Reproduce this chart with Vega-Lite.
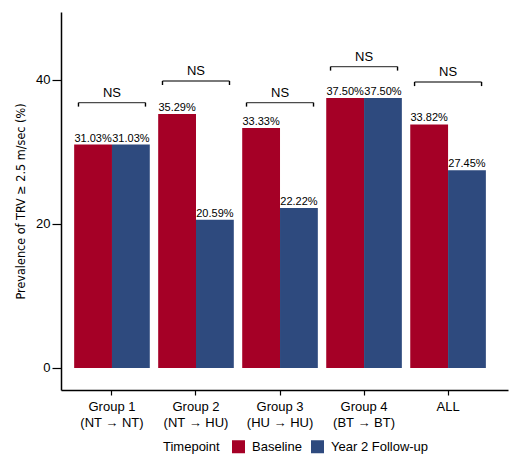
{
  "$schema": "https://vega.github.io/schema/vega-lite/v6.json",
  "autosize": {"type": "none"},
  "padding": {"left": 61, "top": 12, "right": 12, "bottom": 76},
  "width": 447,
  "height": 378,
  "background": "white",
  "config": {
    "font": "Liberation Sans",
    "view": {"stroke": null},
    "axis": {"labelColor": "black", "titleColor": "black", "domainColor": "black", "tickColor": "black", "grid": false}
  },
  "datasets": {
    "bars": [
      {"group": "Group 1|(NT → NT)", "timepoint": "Baseline", "value": 31.03},
      {"group": "Group 1|(NT → NT)", "timepoint": "Year 2 Follow-up", "value": 31.03},
      {"group": "Group 2|(NT → HU)", "timepoint": "Baseline", "value": 35.29},
      {"group": "Group 2|(NT → HU)", "timepoint": "Year 2 Follow-up", "value": 20.59},
      {"group": "Group 3|(HU → HU)", "timepoint": "Baseline", "value": 33.33},
      {"group": "Group 3|(HU → HU)", "timepoint": "Year 2 Follow-up", "value": 22.22},
      {"group": "Group 4|(BT → BT)", "timepoint": "Baseline", "value": 37.5},
      {"group": "Group 4|(BT → BT)", "timepoint": "Year 2 Follow-up", "value": 37.5},
      {"group": "ALL", "timepoint": "Baseline", "value": 33.82},
      {"group": "ALL", "timepoint": "Year 2 Follow-up", "value": 27.45}
    ],
    "brackets": [
      {"group": "Group 1|(NT → NT)", "top": 36.85, "end": 36.3, "label": "NS"},
      {"group": "Group 2|(NT → HU)", "top": 39.86, "end": 39.3, "label": "NS"},
      {"group": "Group 3|(HU → HU)", "top": 36.85, "end": 36.3, "label": "NS"},
      {"group": "Group 4|(BT → BT)", "top": 41.85, "end": 41.3, "label": "NS"},
      {"group": "ALL", "top": 39.72, "end": 39.15, "label": "NS"}
    ]
  },
  "encoding": {
    "x": {
      "field": "group",
      "type": "nominal",
      "sort": null,
      "scale": {"paddingInner": 0.1, "paddingOuter": 0.21, "align": 0.373},
      "axis": {
        "title": null,
        "labelAngle": 0,
        "labelFontSize": 13,
        "labelLineHeight": 16,
        "labelExpr": "split(datum.label, '|')",
        "labelBaseline": "top",
        "labelPadding": 5,
        "tickSize": 5,
        "tickWidth": 1.2,
        "domainWidth": 1.5
      }
    }
  },
  "layer": [
    {
      "data": {"name": "bars"},
      "mark": {"type": "bar"},
      "encoding": {
        "xOffset": {"field": "timepoint", "type": "nominal", "scale": {"paddingInner": 0, "paddingOuter": 0}},
        "y": {
          "field": "value",
          "type": "quantitative",
          "scale": {"domain": [-3.06, 49.44], "nice": false, "zero": false},
          "axis": {
            "values": [0, 20, 40],
            "title": "Prevalence of TRV ≥ 2.5 m/sec (%)",
            "titleFont": "DejaVu Sans Condensed, Liberation Sans Narrow, Liberation Sans",
            "titleFontSize": 12.5,
            "titleFontWeight": "normal",
            "titlePadding": 8,
            "labelFontSize": 13,
            "labelPadding": 2,
            "tickSize": 9,
            "tickWidth": 1.2,
            "domainWidth": 1.5
          }
        },
        "y2": {"datum": 0},
        "color": {
          "field": "timepoint",
          "type": "nominal",
          "scale": {"domain": ["Baseline", "Year 2 Follow-up"], "range": ["#A50026", "#2E4A7E"]},
          "legend": {
            "title": "Timepoint",
            "orient": "none",
            "legendX": 102,
            "legendY": 428,
            "direction": "horizontal",
            "titleOrient": "left",
            "titleFontWeight": "normal",
            "titleFontSize": 13,
            "titleColor": "black",
            "titlePadding": 12,
            "labelFontSize": 13,
            "labelColor": "black",
            "labelOffset": 7,
            "columnPadding": 9,
            "symbolType": "square",
            "symbolSize": 169,
            "symbolStrokeWidth": 0,
            "symbolOpacity": 1
          }
        }
      }
    },
    {
      "data": {"name": "bars"},
      "transform": [{"calculate": "format(datum.value, '.2f') + '%'", "as": "lbl"}],
      "mark": {"type": "text", "baseline": "bottom", "dy": -1, "fontSize": 11, "color": "black"},
      "encoding": {
        "xOffset": {"field": "timepoint", "type": "nominal"},
        "y": {"field": "value", "type": "quantitative"},
        "text": {"field": "lbl"}
      }
    },
    {
      "data": {"name": "brackets"},
      "mark": {"type": "tick", "orient": "horizontal", "size": 67, "thickness": 1.4, "color": "black"},
      "encoding": {"y": {"field": "top", "type": "quantitative"}}
    },
    {
      "data": {"name": "brackets"},
      "mark": {"type": "rule", "xOffset": -33.5, "strokeWidth": 1.4, "color": "black"},
      "encoding": {"y": {"field": "top", "type": "quantitative"}, "y2": {"field": "end"}}
    },
    {
      "data": {"name": "brackets"},
      "mark": {"type": "rule", "xOffset": 33.5, "strokeWidth": 1.4, "color": "black"},
      "encoding": {"y": {"field": "top", "type": "quantitative"}, "y2": {"field": "end"}}
    },
    {
      "data": {"name": "brackets"},
      "mark": {"type": "text", "baseline": "bottom", "dy": -3, "fontSize": 13, "color": "black"},
      "encoding": {"y": {"field": "top", "type": "quantitative"}, "text": {"field": "label"}}
    }
  ]
}
